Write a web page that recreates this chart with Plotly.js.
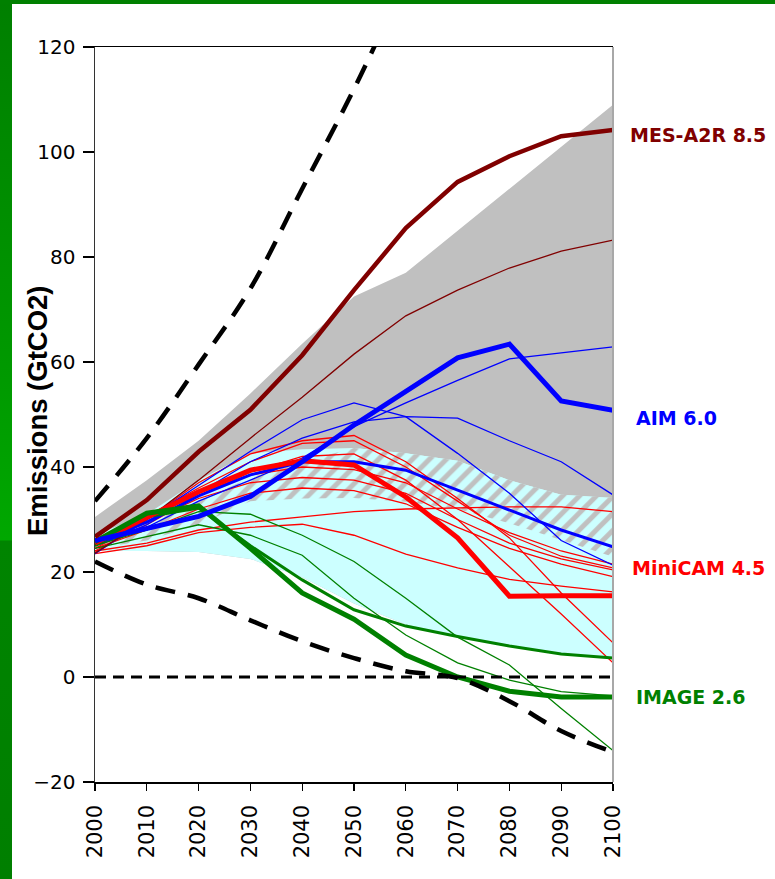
<!DOCTYPE html>
<html><head><meta charset="utf-8">
<script src="https://cdn.plot.ly/plotly-3.0.1.min.js"></script>
<style>
html,body{margin:0;padding:0;background:#fff;}
#wrap{position:relative;width:775px;height:879px;overflow:hidden;background:#fff;}
#gl{position:absolute;left:0;top:0;width:12px;height:879px;background:linear-gradient(to bottom,#007f00 0px,#009a00 380px,#00a800 540px,#008400 541px,#007f00 879px);}
#gt{position:absolute;left:0;top:0;width:775px;height:4px;background:#008000;}
#chart{position:absolute;left:0;top:0;width:775px;height:879px;}
</style></head>
<body><div id="wrap"><div id="gl"></div><div id="gt"></div><div id="chart"></div></div>
<script>
// ---- data ----
const years = [2000,2010,2020,2030,2040,2050,2060,2070,2080,2090,2100];
const yTicks = [-20,0,20,40,60,80,100,120];

// ranges (bands)
const grayUpper  = [30.5,37.5,45,54,63.5,72.5,77,85,93,101,109];
const cyanUpper  = [27,31,37.5,42.6,43.4,43.6,42.6,41.2,37.5,34.7,34.1];
const cyanLower  = [24,24,23.8,22.5,19,14,10,7.8,6,4.5,3.6];
const hatchUpper = [26.5,29.5,33.5,38,41,43.6,42.6,41.2,37.5,34.7,34.1];
const hatchLower = [24.5,26,29,33.5,34,34.1,33.4,32,29.3,26.1,22.9];

// extreme dashed envelopes
const upperYears = [2000,2010,2020,2030,2040,2050,2060];
const upperDash  = [33.5,45.5,59.5,74,93,112,133];
const lowerDash  = [22,17.6,15,10.8,6.8,3.6,1.1,-0.2,-4.6,-10.3,-14.3];
const zeroLine   = [0,0,0,0,0,0,0,0,0,0,0];

// MESSAGE (dark red)
const mesA2R   = [26.7,33.7,42.9,50.9,61.3,73.7,85.5,94.3,99.2,103,104.2];
const mesThin  = [23.6,30,37.5,45.5,53.3,61.5,68.8,73.7,77.9,81.1,83.2];

// AIM (blue)
const aim60    = [26,28.4,30.6,34.4,41,48,54.5,60.8,63.4,52.6,50.8];
const aimMed   = [25.5,29.5,34.5,38.5,41,41,39.4,35.6,31.8,28,24.8];
const aimThin1 = [23.5,30,36.5,43,49,52.2,49.6,42.6,35,26,21.3];
const aimThin2 = [25,29,35,41,45.5,48.6,49.6,49.3,45,41,34.7];
const aimThin3 = [25,28.5,33.5,37.5,41.7,47.7,52.2,56.5,60.6,61.8,62.9];

// MiniCAM (red)
const miniCAM45 = [25.5,30.3,35.3,39.4,41.2,40.4,34.3,26.5,15.4,15.5,15.5];
const red1 = [24.5,30,37,42.5,45,46,41,34,26.5,16,6.5];
const red2 = [25,30.5,36,41,44.5,45,40,33.5,27,23,20.8];
const red3 = [24,29,34.5,39,42,42.5,37.5,30,21,12,2.7];
const red4 = [25,30,35,38.5,40,39.5,37,32,27.5,24,21.5];
const red5 = [25,29.5,34,37,38,37.5,35,30,25.5,22.5,20.4];
const red6 = [24.5,28,32,35,36,35.5,33,28.5,24.5,21.5,19.1];
const red7 = [24,25.5,28,29.5,30.5,31.5,32,32.2,32.4,32.4,31.5];
const red8 = [23.5,25,27.5,28.5,29.1,27,23.4,20.8,18.6,17.3,16.2];

// IMAGE (green)
const image26  = [25.8,31.2,32.6,24.5,16,11,4.2,0,-2.7,-3.8,-3.8];
const greenMed = [25,30.5,32.2,25,18.5,12.8,9.7,7.7,5.9,4.4,3.6];
const greenA   = [25,28,31.5,31,27,22,15,7.6,2.3,-6,-14];
const greenB   = [24.5,26.7,29,27,23.2,15,8,2.7,-0.6,-2.8,-3.6];

// labels
const seriesLabels = ["MES-A2R 8.5","AIM 6.0","MiniCAM 4.5","IMAGE 2.6"];
const yTitle = "Emissions (GtCO2)";

// ---- traces ----
function ln(x, y, color, width, dash, shape) {
  return {x:x, y:y, mode:'lines', hoverinfo:'skip', showlegend:false,
          line:{color:color, width:width, dash:dash||'solid', shape:shape||'linear'}};
}
function edge(y){ return {x:years, y:y, mode:'lines', hoverinfo:'skip', showlegend:false, line:{width:0, color:'rgba(0,0,0,0)'}}; }

const traces = [];
// gray band
traces.push(edge(cyanLower));
traces.push(Object.assign(edge(grayUpper), {fill:'tonexty', fillcolor:'#c0c0c0'}));
// cyan band
traces.push(edge(cyanLower));
traces.push(Object.assign(edge(cyanUpper), {fill:'tonexty', fillcolor:'#ccffff'}));
// hatched overlap
traces.push(edge(hatchLower));
traces.push(Object.assign(edge(hatchUpper), {fill:'tonexty', fillcolor:'#ccffff',
  fillpattern:{shape:'/', fgcolor:'#c0c0c0', bgcolor:'#ccffff', size:12, solidity:0.42}}));

// thin lines
[red1,red2,red3,red4,red5,red6,red7,red8].forEach(r => traces.push(ln(years, r, '#ff0000', 1.3)));
[aimThin1,aimThin2,aimThin3].forEach(b => traces.push(ln(years, b, '#0000ff', 1.3)));
[greenA,greenB].forEach(g => traces.push(ln(years, g, '#008000', 1.3)));
traces.push(ln(years, mesThin, '#800000', 1.3));
// medium
traces.push(ln(years, aimMed, '#0000ff', 3));
traces.push(ln(years, greenMed, '#008000', 3));
// thick
traces.push(ln(years, miniCAM45, '#ff0000', 5));
traces.push(ln(years, image26, '#008000', 5));
traces.push(ln(years, aim60, '#0000ff', 5));
traces.push(ln(years, mesA2R, '#800000', 4.5));
// dashed
traces.push(ln(years, zeroLine, '#000000', 3, '11px,7px'));
traces.push(ln(upperYears, upperDash, '#000000', 4.5, '20px,13px', 'spline'));
traces.push(ln(years, lowerDash, '#000000', 4.5, '20px,13px', 'spline'));

const lblFont = (c) => ({family:'DejaVu Sans', size:19, color:c, weight:'bold'});

const layout = {
  width:775, height:879,
  margin:{l:95, r:162, t:47, b:97, pad:0},
  paper_bgcolor:'rgba(0,0,0,0)', plot_bgcolor:'#ffffff',
  showlegend:false,
  xaxis:{range:[2000,2100], tickvals:years, ticktext:years.map(String), tickangle:-90,
         showgrid:false, zeroline:false, showline:true, linecolor:'#000', linewidth:1.5, mirror:true,
         ticks:'outside', ticklen:7, tickcolor:'#000', tickwidth:1.3, ticklabelstandoff:6,
         tickfont:{family:'DejaVu Sans', size:21, color:'#000'}},
  yaxis:{range:[-20,120], tickvals:yTicks, showgrid:false, zeroline:false, showline:true,
         linecolor:'#333', linewidth:1.5, ticks:'outside', ticklen:11, tickcolor:'#000', tickwidth:1.3,
         ticklabelstandoff:3, tickfont:{family:'DejaVu Sans', size:20, color:'#000'}},
  shapes:[{type:'line', xref:'paper', yref:'paper', x0:1, x1:1, y0:0, y1:1, line:{color:'#a8a8a8', width:2}}],
  annotations:[
    {text:yTitle, xref:'paper', yref:'paper', x:-0.112, y:0.506, xanchor:'center', yanchor:'middle',
     textangle:-90, showarrow:false, font:{family:'Liberation Sans', size:27.5, color:'#000', weight:'bold'}},
    {text:seriesLabels[0], xref:'paper', yref:'paper', x:1.029, y:0.880, xanchor:'left', yanchor:'middle', showarrow:false, font:lblFont('#800000')},
    {text:seriesLabels[1], xref:'paper', yref:'paper', x:1.041, y:0.495, xanchor:'left', yanchor:'middle', showarrow:false, font:lblFont('#0000ff')},
    {text:seriesLabels[2], xref:'paper', yref:'paper', x:1.033, y:0.291, xanchor:'left', yanchor:'middle', showarrow:false, font:lblFont('#ff0000')},
    {text:seriesLabels[3], xref:'paper', yref:'paper', x:1.041, y:0.116, xanchor:'left', yanchor:'middle', showarrow:false, font:lblFont('#008000')}
  ]
};

Plotly.newPlot('chart', traces, layout, {staticPlot:true, displayModeBar:false});
</script></body></html>
